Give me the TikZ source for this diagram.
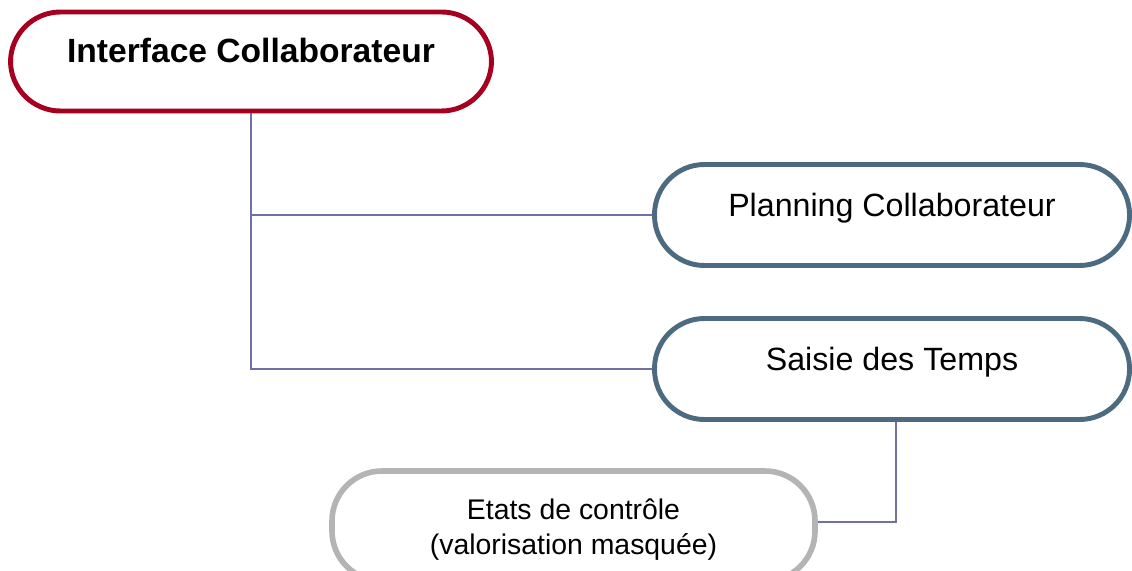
\documentclass[tikz,border=0pt]{standalone}
\usepackage{fontspec}
\setmainfont{Liberation Sans}
\usetikzlibrary{backgrounds}

\definecolor{boxred}{RGB}{166,0,33}
\definecolor{boxblue}{RGB}{76,106,128}
\definecolor{boxgrey}{RGB}{180,180,180}
\definecolor{linkpurple}{RGB}{112,112,165}

\begin{document}
\begin{tikzpicture}[
    box/.style={draw, fill=white, line width=3.5pt, rounded corners=1.25cm,
        inner xsep=0pt, inner ysep=0pt, align=center},
    link/.style={draw=linkpurple, line width=1.4pt}
]
    % Fix the page size
    \useasboundingbox (0,0) rectangle (28.3,14.25);

    % Main box
    \node[box, draw=boxred, minimum width=12.025cm, minimum height=2.475cm,
        text height=1.275cm, text depth=1.2cm,
        font=\fontsize{23.9pt}{28pt}\selectfont\bfseries]
        (collab) at (6.275,12.7125) {Interface Collaborateur};

    % Sub boxes
    \node[box, draw=boxblue, minimum width=11.875cm, minimum height=2.525cm,
        text height=1.3cm, text depth=1.225cm,
        font=\fontsize{22.9pt}{27pt}\selectfont]
        (planning) at (22.3,8.875) {Planning Collaborateur};
    \node[box, draw=boxblue, minimum width=11.875cm, minimum height=2.525cm,
        text height=1.29cm, text depth=1.235cm,
        font=\fontsize{22.9pt}{27pt}\selectfont]
        (saisie) at (22.3,5.025) {Saisie des Temps};
    \node[box, draw=boxgrey, line width=4pt, minimum width=12.075cm, minimum height=2.75cm,
        text height=2.075cm, text depth=0.675cm,
        font=\fontsize{20.2pt}{24.2pt}\selectfont]
        (etats) at (14.3375,1.1) {Etats de contrôle\\(valorisation masquée)};

    % Connectors
    \begin{pgfonlayer}{background}
        \draw[link] (collab.south) |- (planning.west);
        \draw[link] (collab.south) |- (saisie.west);
        \draw[link] ([xshift=0.1cm]saisie.south) |- ([yshift=0.11cm]etats.east);
    \end{pgfonlayer}
\end{tikzpicture}
\end{document}
